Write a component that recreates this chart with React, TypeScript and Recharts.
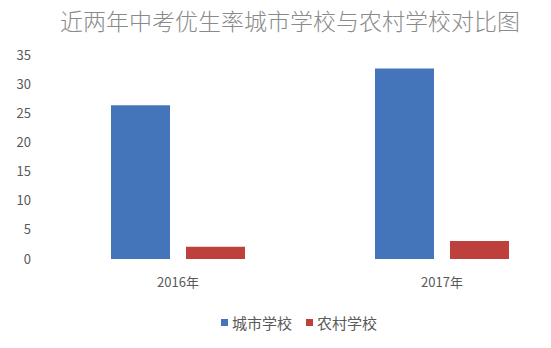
import { BarChart, Bar, XAxis, YAxis, Legend } from "recharts";

// categories and series
const years = ["2016年", "2017年"];
const cityRate = [26.4, 32.7];
const ruralRate = [2.1, 3.1];
const yTicks = [0, 5, 10, 15, 20, 25, 30, 35];

const SERIES = [
  { key: "city", name: "城市学校", color: "#4475BA" },
  { key: "rural", name: "农村学校", color: "#BE403D" },
];

const data = years.map((year, i) => ({
  year,
  city: cityRate[i],
  rural: ruralRate[i],
}));

const FONT = '"Noto Sans CJK SC", "Noto Sans", sans-serif';

function LegendBox() {
  return (
    <div
      style={{
        display: "flex",
        justifyContent: "center",
        alignItems: "center",
        gap: 14,
        paddingTop: 19,
        paddingLeft: 24,
        fontFamily: FONT,
        fontSize: 15,
        color: "#595959",
      }}
    >
      {SERIES.map((s) => (
        <span key={s.key} style={{ display: "flex", alignItems: "center" }}>
          <span
            style={{
              width: 7,
              height: 7,
              background: s.color,
              display: "inline-block",
              marginRight: 4,
            }}
          />
          {s.name}
        </span>
      ))}
    </div>
  );
}

export default function App() {
  return (
    <div
      style={{
        position: "absolute",
        left: 0,
        top: 0,
        width: 551,
        height: 348,
        overflow: "hidden",
        background: "#fff",
      }}
    >
      <div
        style={{
          position: "absolute",
          left: 60,
          top: 5,
          fontFamily: FONT,
          fontWeight: 300,
          fontSize: 23,
          color: "#8a8a8a",
          whiteSpace: "nowrap",
          lineHeight: "30px",
        }}
      >
        近两年中考优生率城市学校与农村学校对比图
      </div>
      <BarChart
        width={600}
        height={348}
        data={data}
        margin={{ top: 55, right: 26, left: 0, bottom: 8 }}
        barGap={16}
        barSize={59}
      >
        <XAxis
          dataKey="year"
          axisLine={false}
          tickLine={false}
          tickSize={0}
          tickMargin={19}
          height={34}
          tick={{ fill: "#595959", fontSize: 13, fontFamily: FONT }}
        />
        <YAxis
          domain={[0, 35]}
          ticks={yTicks}
          axisLine={false}
          tickLine={false}
          tickSize={0}
          tickMargin={15}
          width={46}
          tick={{ fill: "#595959", fontSize: 13, fontFamily: FONT }}
        />
        <Legend verticalAlign="bottom" height={47} content={<LegendBox />} />
        {SERIES.map((s) => (
          <Bar
            key={s.key}
            dataKey={s.key}
            name={s.name}
            fill={s.color}
            isAnimationActive={false}
          />
        ))}
      </BarChart>
    </div>
  );
}
